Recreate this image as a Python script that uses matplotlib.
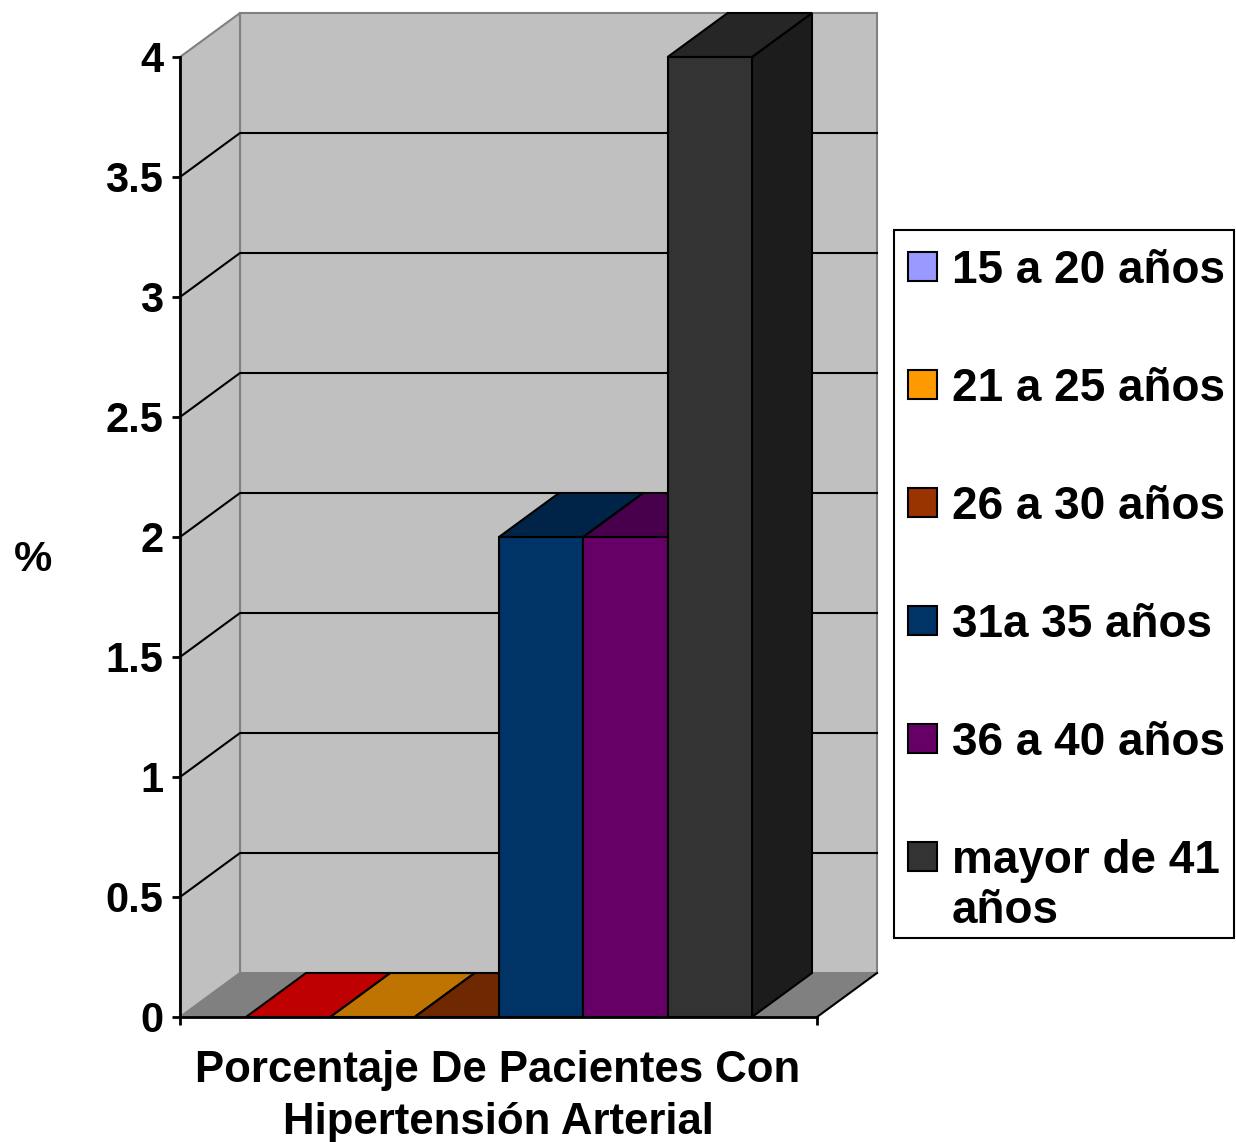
import matplotlib.pyplot as plt
from matplotlib.patches import Polygon, Rectangle
from matplotlib.transforms import Affine2D

# datos
grupos = ["15 a 20 años", "21 a 25 años", "26 a 30 años",
          "31a 35 años", "36 a 40 años", "mayor de 41\naños"]
valores = [0, 0, 0, 2, 2, 4]
yticks = [0, 0.5, 1, 1.5, 2, 2.5, 3, 3.5, 4]
titulo = "Porcentaje De Pacientes Con\nHipertensión Arterial"

# colores de cada serie: frente, cara superior y lateral
frente = ['#9999FF', '#FF9900', '#993300', '#003366', '#660066', '#333333']
arriba = ['#BF0000', '#BF7300', '#6F2800', '#002448', '#48004C', '#262626']
lado = ['#7373BF', '#BF7300', '#732600', '#001E3C', '#3C003C', '#1C1C1C']

W, H = 1236, 1142
fig = plt.figure(figsize=(W / 100, H / 100), dpi=100)
plt.rcParams['font.family'] = ['Liberation Sans', 'DejaVu Sans']
plt.rcParams['font.weight'] = 'bold'

# transformacion en pixeles (origen arriba a la izquierda)
px = Affine2D().scale(1 / W, -1 / H).translate(0, 1) + fig.transFigure

ax = fig.add_axes([180 / W, 1 - 1017 / H, 637 / W, 960 / H])
ax.set_facecolor('none')

xl, xr = -1.283, 6.271
ymax = 4
dx, dy = 0.7115, 0.1833  # profundidad 3D
ax.set_xlim(xl, xr)
ax.set_ylim(0, ymax)

gris = '#C0C0C0'
borde = '#808080'

# pared del fondo y pared lateral
ax.add_patch(Polygon([(xl + dx, dy), (xr + dx, dy), (xr + dx, ymax + dy), (xl + dx, ymax + dy)],
                     closed=True, facecolor=gris, edgecolor=borde, lw=1.5, clip_on=False, zorder=0))
ax.add_patch(Polygon([(xl, 0), (xl, ymax), (xl + dx, ymax + dy), (xl + dx, dy)],
                     closed=True, facecolor=gris, edgecolor=borde, lw=1.5, clip_on=False, zorder=0))
# piso
ax.add_patch(Polygon([(xl, 0), (xr, 0), (xr + dx, dy), (xl + dx, dy)],
                     closed=True, facecolor='#808080', edgecolor='none', clip_on=False, zorder=0.5))
ax.plot([xr, xr + dx], [0, dy], color='black', lw=1.5, clip_on=False, zorder=0.6)

# lineas de division
for v in yticks[1:-1]:
    ax.plot([xl, xl + dx, xr + dx], [v, v + dy, v + dy], color='black', lw=1.5,
            clip_on=False, zorder=0.4)

# barras 3D
for i, h in enumerate(valores):
    x0, x1 = i - 0.5, i + 0.5
    z = 2 + i
    if h > 0:
        ax.add_patch(Polygon([(x1, 0), (x1, h), (x1 + dx, h + dy), (x1 + dx, dy)], closed=True,
                             facecolor=lado[i], edgecolor='black', lw=1.5, clip_on=False, zorder=z))
    ax.add_patch(Polygon([(x0, h), (x1, h), (x1 + dx, h + dy), (x0 + dx, h + dy)], closed=True,
                         facecolor=arriba[i], edgecolor='black', lw=1.5, clip_on=False, zorder=z))
    if h > 0:
        ax.bar(i, h, width=1, color=frente[i], edgecolor='black', lw=1.5,
               clip_on=False, zorder=z + 0.1)

# ejes
for s in ['top', 'right']:
    ax.spines[s].set_visible(False)
for s in ['left', 'bottom']:
    ax.spines[s].set_linewidth(2)
    ax.spines[s].set_zorder(20)
ax.set_yticks(yticks)
ax.set_yticklabels([f'{v:g}' for v in yticks])
ax.set_xticks([xl, xr])
ax.set_xticklabels([])
ax.tick_params(axis='both', direction='out', length=6, width=2, pad=6,
               labelsize=30, color='black')
for t in ax.get_yticklabels():
    t.set_fontweight('bold')

fig.text(33, 560, '%', transform=px, fontsize=31, fontweight='bold', ha='center', va='center')
fig.text(498, 1082, titulo.split('\n')[0], transform=px, fontsize=31.5, fontweight='bold',
         ha='center', va='baseline')
fig.text(498, 1134, titulo.split('\n')[1], transform=px, fontsize=31.5, fontweight='bold',
         ha='center', va='baseline')

# leyenda
fig.patches.append(Rectangle((894, 230), 340, 708, transform=px, facecolor='white',
                             edgecolor='black', lw=1.5, zorder=1))
for k, (nombre, c) in enumerate(zip(grupos, frente)):
    cy = 266.5 + 118 * k
    fig.patches.append(Rectangle((908, cy - 14.5), 29, 29, transform=px, facecolor=c,
                                 edgecolor='black', lw=1.5, zorder=2))
    for j, linea in enumerate(nombre.split('\n')):
        fig.text(952, cy + 16.5 + 50 * j, linea, transform=px, fontsize=33,
                 fontweight='bold', ha='left', va='baseline', zorder=3)

fig.savefig('out.png', dpi=100)
